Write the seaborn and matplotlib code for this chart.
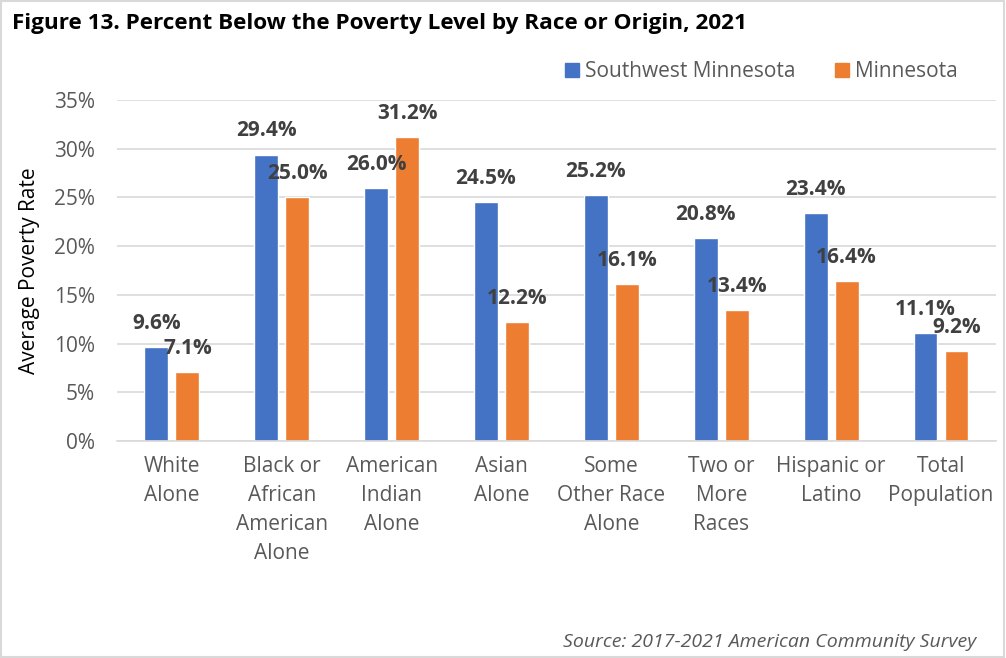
import matplotlib
matplotlib.use("Agg")
import matplotlib.pyplot as plt
import seaborn as sns
import pandas as pd
from matplotlib.patches import Rectangle

categories = ["White\nAlone", "Black or\nAfrican\nAmerican\nAlone", "American\nIndian\nAlone",
              "Asian\nAlone", "Some\nOther Race\nAlone", "Two or\nMore\nRaces",
              "Hispanic or\nLatino", "Total\nPopulation"]
southwest = [9.6, 29.4, 26.0, 24.5, 25.2, 20.8, 23.4, 11.1]
minnesota = [7.1, 25.0, 31.2, 12.2, 16.1, 13.4, 16.4, 9.2]
series = ["Southwest Minnesota", "Minnesota"]
yticks = [0, 5, 10, 15, 20, 25, 30, 35]

df = pd.DataFrame({
    "cat": categories * 2,
    "val": southwest + minnesota,
    "series": [series[0]] * len(categories) + [series[1]] * len(categories),
})

sns.set_theme(style="white")
plt.rcParams["font.family"] = ["Open Sans", "DejaVu Sans"]

fig = plt.figure(figsize=(10.06, 6.58), dpi=100)
ax = fig.add_axes([0.1163, 0.3298, 0.8737, 0.5182])

palette = {series[0]: "#4472C4", series[1]: "#ED7D31"}
sns.barplot(data=df, x="cat", y="val", hue="series", order=categories, hue_order=series,
            palette=palette, width=0.564, gap=0.227, ax=ax, saturation=1, legend=False,
            errorbar=None)

for cont in ax.containers:
    for bar in cont:
        h = bar.get_height()
        ax.annotate(f"{h:.1f}%", (bar.get_x() + bar.get_width() / 2, h),
                    xytext=(0, 9.5), textcoords="offset points", ha="center", va="bottom",
                    fontsize=15, fontweight="bold", color="#404040")

ax.set_ylim(0, 35)
ax.set_yticks(yticks)
ax.set_yticklabels([f"{t}%" for t in yticks], fontsize=15, color="#595959")
ax.set_xlim(-0.5, len(categories) - 0.5)
ax.tick_params(axis="x", labelsize=15, labelcolor="#595959", pad=11, length=0)
ax.tick_params(axis="y", length=0, pad=16)
for lbl in ax.get_xticklabels():
    lbl.set_linespacing(1.5)
ax.set_xlabel("")
ax.set_ylabel("Average Poverty Rate", fontsize=15, color="#000000", labelpad=10)
ax.grid(axis="y", color="#D9D9D9", linewidth=1.2)
ax.set_axisbelow(True)
for s in ["top", "right", "left"]:
    ax.spines[s].set_visible(False)
ax.spines["bottom"].set_color("#D9D9D9")
ax.spines["bottom"].set_linewidth(1.2)

# legend
handles = [Rectangle((0, 0), 1, 1, color=palette[s]) for s in series]
fig.legend(handles, series, loc="center", bbox_to_anchor=(0.757, 0.891), ncol=2, frameon=False,
           fontsize=15, labelcolor="#595959", handlelength=0.67, handleheight=0.67,
           columnspacing=1.87, handletextpad=0.3)

fig.text(0.012, 0.965, "Figure 13. Percent Below the Poverty Level by Race or Origin, 2021",
         fontsize=16.2, fontweight="bold", ha="left", va="center", color="#000000")
fig.text(0.970, 0.025, "Source: 2017-2021 American Community Survey", fontsize=14,
         style="italic", ha="right", va="center", color="#595959")

fig.patches.append(Rectangle((0.001, 0.001), 0.997, 0.997, transform=fig.transFigure,
                             fill=False, edgecolor="#D9D9D9", linewidth=1.5))

fig.savefig("out.png", dpi=100)
